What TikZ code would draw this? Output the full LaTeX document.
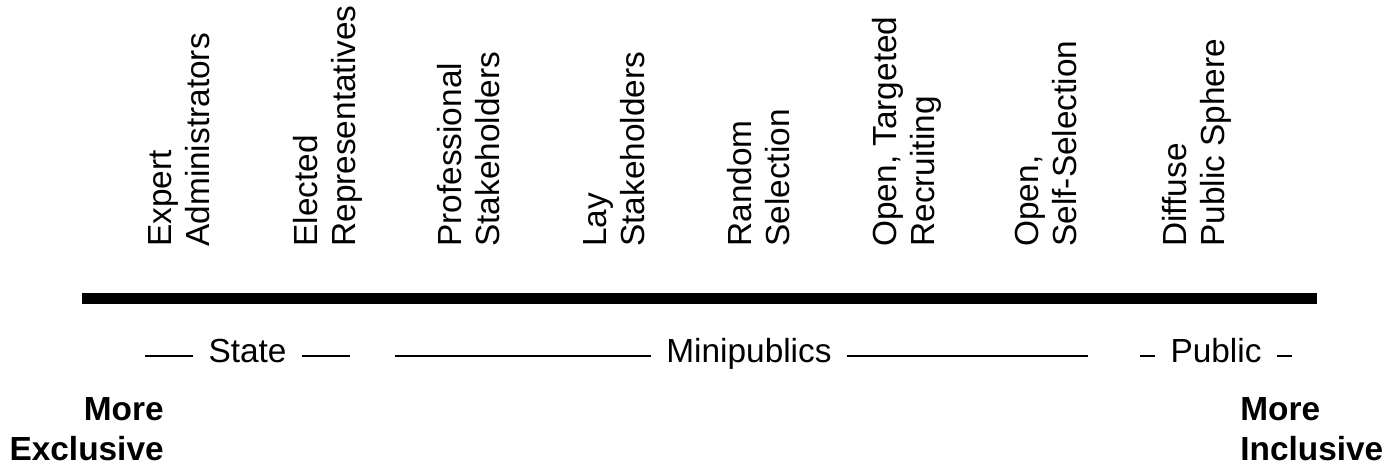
\documentclass[tikz,border=0pt]{standalone}
\usepackage{fontspec}
\setmainfont{Liberation Sans}
\usepackage{tikz}
\usetikzlibrary{positioning}

\begin{document}
\begin{tikzpicture}[
  every node/.style={font=\fontsize{19}{21.7}\selectfont},
  role/.style={rotate=90, anchor=north west, inner sep=0pt, align=left},
  sector/.style={inner ysep=0pt, inner xsep=0.3cm, text height=0.72em, text depth=0pt},
  pole/.style={inner sep=0pt, font=\fontsize{19}{22.7}\selectfont\bfseries},
  rangeline/.style={line width=1.1pt}
]
  \useasboundingbox (0,0) rectangle (27.7,-9.36);

  % participant types along the scale
  \node[role] (expadm)    at (2.96,-4.94)  {Expert\\Administrators};
  \node[role] (elecrep)   at (5.86,-4.94)  {Elected\\Representatives};
  \node[role] (profstake) at (8.74,-4.94)  {Professional\\Stakeholders};
  \node[role] (laystake)  at (11.66,-4.94) {Lay\\Stakeholders};
  \node[role] (randsel)   at (14.54,-4.94) {Random\\Selection};
  \node[role] (opentarg)  at (17.44,-4.94) {Open, Targeted\\Recruiting};
  \node[role] (openself)  at (20.30,-4.94) {Open,\\Self-Selection};
  \node[role] (pubsphere) at (23.24,-4.94) {Diffuse\\Public Sphere};

  % the scale itself
  \coordinate (barL) at (1.64,-5.97);
  \coordinate (barR) at (26.34,-5.97);
  \draw[line width=0.22cm] (barL) -- (barR);

  % sectors
  \node[sector] (state) at (4.95,-7.12)  {State};
  \node[sector] (mini)  at (14.98,-7.12) {Minipublics};
  \node[sector] (pub)   at (24.32,-7.12) {Public};

  \coordinate (stA) at (2.90,-7.12);
  \coordinate (stB) at (7.00,-7.12);
  \coordinate (miA) at (7.90,-7.12);
  \coordinate (miB) at (21.76,-7.12);
  \coordinate (puA) at (22.80,-7.12);
  \coordinate (puB) at (25.84,-7.12);

  \draw[rangeline] (stA) -- (state.west);
  \draw[rangeline] (state.east) -- (stB);
  \draw[rangeline] (miA) -- (mini.west);
  \draw[rangeline] (mini.east) -- (miB);
  \draw[rangeline] (puA) -- (pub.west);
  \draw[rangeline] (pub.east) -- (puB);

  % ends of the scale
  \node[pole, anchor=north east, align=right] (excl) at (3.28,-7.94)  {More\\Exclusive};
  \node[pole, anchor=north west, align=left]  (incl) at (24.80,-7.94) {More\\Inclusive};
\end{tikzpicture}
\end{document}
